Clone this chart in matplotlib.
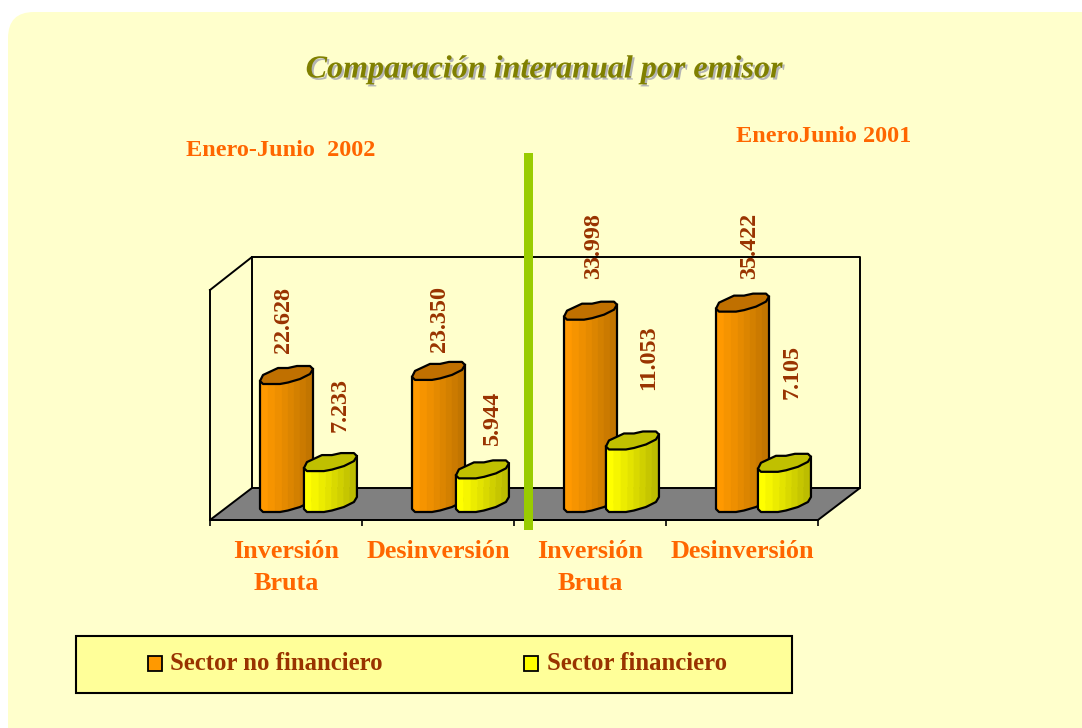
import numpy as np
import matplotlib
matplotlib.use("Agg")
import matplotlib.pyplot as plt
from matplotlib.patches import Polygon, Rectangle, FancyBboxPatch
import matplotlib.patheffects as pe

categories = ["Inversión\nBruta", "Desinversión", "Inversión\nBruta", "Desinversión"]
no_financiero = [22628, 23350, 33998, 35422]
financiero = [7233, 5944, 11053, 7105]
series_names = ["Sector no financiero", "Sector financiero"]
title = "Comparación interanual por emisor"
period_left = "Enero-Junio  2002"
period_right = "EneroJunio 2001"

W, H = 1082, 728
FONT = "Liberation Serif"
BROWN = "#993300"
ORANGE_TXT = "#FF6600"

fig = plt.figure(figsize=(W / 100, H / 100), dpi=100, facecolor="white")

bg = fig.add_axes([0, 0, 1, 1], zorder=0)
bg.set_xlim(0, W)
bg.set_ylim(H, 0)
bg.axis("off")

# panel
bg.add_patch(FancyBboxPatch((8, 12), W + 60, H + 60,
                            boxstyle="round,pad=0,rounding_size=26",
                            fc="#FFFFCC", ec="none"))

# walls and floor
bg.add_patch(Polygon([(210, 520), (252, 488), (860, 488), (818, 520)],
                     fc="#808080", ec="black", lw=1.4))
bg.plot([210, 252, 860, 860], [290, 257, 257, 488], color="black", lw=1.4)
bg.plot([252, 252], [257, 488], color="black", lw=1.4)
bg.plot([210, 210], [290, 520], color="black", lw=1.4)

# chart axes: value 0 sits at pixel row 509, categories span 210..818
PX_X0, PX_X1 = 210, 818
PX_BOTTOM, PX_TOP, PX_ZERO = 520, 100, 509
PX_PER_UNIT = 128 / 22628
PX_PER_CAT = (PX_X1 - PX_X0) / len(categories)

ax = fig.add_axes([PX_X0 / W, 1 - PX_BOTTOM / H, (PX_X1 - PX_X0) / W,
                   (PX_BOTTOM - PX_TOP) / H], zorder=1)
ax.patch.set_alpha(0)
ax.set_xlim(0, len(categories))
ax.set_ylim(-(PX_BOTTOM - PX_ZERO) / PX_PER_UNIT, (PX_ZERO - PX_TOP) / PX_PER_UNIT)
for s in ("left", "right", "top"):
    ax.spines[s].set_visible(False)
ax.spines["bottom"].set_linewidth(1.4)
ax.set_yticks([])
ax.set_xticks(np.arange(len(categories) + 1))
ax.set_xticklabels([])
ax.tick_params(axis="x", which="major", length=4.5, width=1.2)
ax.set_xticks(np.arange(len(categories)) + 0.5, minor=True)
ax.set_xticklabels(categories, minor=True, fontfamily=FONT, fontweight="bold",
                   fontsize=18.8, color=ORANGE_TXT, linespacing=1.5)
ax.tick_params(axis="x", which="minor", length=0, pad=14.5)

# cross-section of the fluted column, in pixels
front_x = np.array([0, 3, 20, 28, 40, 50, 53])
front_y = np.array([0, -3, -3, -1.5, 2, 7, 12])
back_x = np.array([53, 50, 37, 28, 18, 3, 0])
back_y = np.array([12, 15, 15, 13, 13, 6, 0])
strip_edges = np.array([0, 8, 15, 22, 28, 34, 40, 46, 53])

order = [10]


def next_z():
    order[0] += 1
    return order[0]


def to_data(left, px_dx, base, px_dy):
    return left + np.asarray(px_dx) / PX_PER_CAT, base + np.asarray(px_dy) / PX_PER_UNIT


def column(left, value, side_start, side_end, top_color):
    z = next_z()
    for i in range(len(strip_edges) - 1):
        xs = np.linspace(strip_edges[i], strip_edges[i + 1], 5)
        ys = np.interp(xs, front_x, front_y)
        t = i / (len(strip_edges) - 2)
        col = (1 - t) * np.array(side_start) + t * np.array(side_end)
        px = np.r_[xs, xs[::-1]]
        py = np.r_[ys, ys[::-1]]
        dx, dy = to_data(left, px, 0, py)
        dy = dy.copy()
        dy[len(xs):] += value
        ax.add_patch(Polygon(np.c_[dx, dy], fc=col, ec=col, lw=0.3, clip_on=False, zorder=z))
    # outline of the side: base curve and the two vertical edges
    ox, oy = to_data(left, front_x, 0, front_y)
    sx = np.r_[ox[0], ox, ox[-1]]
    sy = np.r_[oy[0] + value, oy, oy[-1] + value]
    ax.plot(sx, sy, color="black", lw=1.6, clip_on=False, solid_joinstyle="round", zorder=z)
    # top cap
    tx = np.r_[front_x, back_x[1:]]
    ty = np.r_[front_y, back_y[1:]]
    cx, cy = to_data(left, tx, value, ty)
    ax.add_patch(Polygon(np.c_[cx, cy], fc=top_color, ec="black", lw=1.6,
                         joinstyle="round", clip_on=False, zorder=z))


ORANGE_A, ORANGE_B = (1.0, 0.60, 0.0), (0.76, 0.46, 0.0)
YELLOW_A, YELLOW_B = (1.0, 1.0, 0.0), (0.74, 0.74, 0.0)
left_a = [0.329, 0.329, 0.329, 0.329]
left_b = [0.618, 0.618, 0.605, 0.605]

for i, (a, b) in enumerate(zip(no_financiero, financiero)):
    column(i + left_a[i], a, ORANGE_A, ORANGE_B, "#C07000")
    column(i + left_b[i], b, YELLOW_A, YELLOW_B, "#C0C000")

# value labels
label_a_x = [283, 439, 594, 750]
label_a_gap = [28, 25, 38, 30]
label_b_x = [340, 492, 649, 792]
label_b_gap = [36, 30, 56, 70]
lab_kw = dict(rotation=90, ha="center", va="bottom", fontfamily=FONT,
              fontweight="bold", fontsize=17.4, color=BROWN, clip_on=False, zorder=40)


def fmt(v):
    return f"{v:,}".replace(",", ".")


for i in range(len(categories)):
    ax.text((label_a_x[i] - PX_X0) / PX_PER_CAT, no_financiero[i] + label_a_gap[i] / PX_PER_UNIT,
            fmt(no_financiero[i]), **lab_kw)
    ax.text((label_b_x[i] - PX_X0) / PX_PER_CAT, financiero[i] + label_b_gap[i] / PX_PER_UNIT,
            fmt(financiero[i]), **lab_kw)

# overlay
top = fig.add_axes([0, 0, 1, 1], zorder=2)
top.set_xlim(0, W)
top.set_ylim(H, 0)
top.axis("off")
top.add_patch(Rectangle((524, 153), 9, 377, fc="#99CC00", ec="none"))

top.text(544.5, 70, title, ha="center", va="center", fontfamily=FONT, fontweight="bold",
         fontstyle="italic", fontsize=23.1, color="#808000",
         path_effects=[pe.withSimplePatchShadow(offset=(1.5, -1.5), shadow_rgbFace="#B4B4B4", alpha=1.0)])
top.text(281, 150, period_left, ha="center", va="center", fontfamily=FONT,
         fontweight="bold", fontsize=17.5, color=ORANGE_TXT)
top.text(824, 136, period_right, ha="center", va="center", fontfamily=FONT,
         fontweight="bold", fontsize=17.5, color=ORANGE_TXT)

# legend
top.add_patch(Rectangle((76, 636), 716, 57, fc="#FFFF99", ec="black", lw=1.5))
for sx, tx, col, name in [(148, 170, "#FF9900", series_names[0]),
                          (524, 547, "#FFFF00", series_names[1])]:
    top.add_patch(Rectangle((sx, 655.5), 14, 15, fc=col, ec="black", lw=1.3))
    top.text(tx, 664, name, ha="left", va="center", fontfamily=FONT, fontweight="bold",
             fontsize=17.8, color=BROWN)

fig.savefig("out.png", dpi=100, facecolor="white")
